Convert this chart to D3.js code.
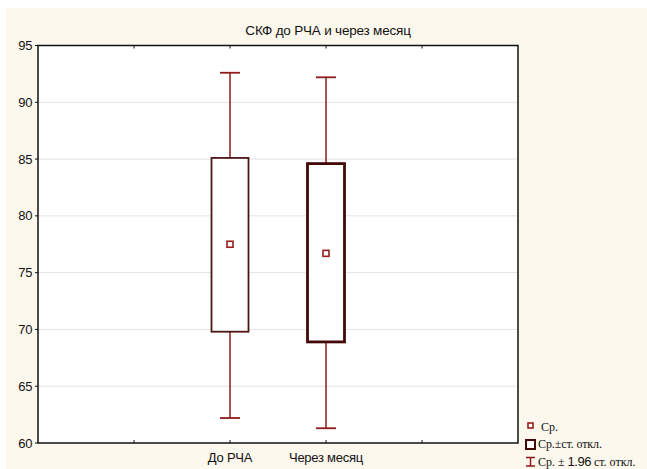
<!DOCTYPE html>
<html>
<head>
<meta charset="utf-8">
<script src="https://cdn.jsdelivr.net/npm/d3@7"></script>
<style>
  body { margin: 0; background: #fff; }
  text { font-family: "Liberation Sans", Arial, sans-serif; }
</style>
</head>
<body>
<div id="chart"></div>
<script>
// data
const categories = ["До РЧА", "Через месяц"];
const catPos = [2, 3];
const means = [77.5, 76.7];
const boxLow = [69.8, 68.9];
const boxHigh = [85.1, 84.6];
const whiskLow = [62.2, 61.3];
const whiskHigh = [92.6, 92.2];
const yTicks = [60, 65, 70, 75, 80, 85, 90, 95];

const W = 647, H = 469;
const margin = { top: 45.5, right: 129, bottom: 26, left: 38 };

const svg = d3.select("#chart").append("svg")
  .attr("width", W)
  .attr("height", H);

// cream frame
svg.append("rect")
  .attr("x", 6).attr("y", 8)
  .attr("width", W - 6).attr("height", H - 8)
  .attr("fill", "#fdf8ee");

const x = d3.scaleLinear().domain([0, 5]).range([margin.left, W - margin.right]);
const y = d3.scaleLinear().domain([60, 95]).range([H - margin.bottom, margin.top]);

// plot area
svg.append("rect")
  .attr("x", x(0)).attr("y", y(95))
  .attr("width", x(5) - x(0)).attr("height", y(60) - y(95))
  .attr("fill", "#fff");

// grid
svg.append("g").selectAll("line")
  .data(yTicks.slice(1, -1))
  .join("line")
  .attr("x1", x(0)).attr("x2", x(5))
  .attr("y1", d => y(d)).attr("y2", d => y(d))
  .attr("stroke", "#e2e2e2").attr("stroke-width", 1);

// y axis labels
svg.append("g").selectAll("text")
  .data(yTicks)
  .join("text")
  .attr("x", x(0) - 6)
  .attr("y", d => y(d) + 4.5)
  .attr("text-anchor", "end")
  .attr("font-size", 13)
  .attr("letter-spacing", -0.4)
  .attr("fill", "#111")
  .text(d => d);

// y tick marks
svg.append("g").selectAll("line")
  .data(yTicks)
  .join("line")
  .attr("x1", x(0) - 3).attr("x2", x(0))
  .attr("y1", d => y(d)).attr("y2", d => y(d))
  .attr("stroke", "#111");

// x ticks (top and bottom)
const xt = [1, 2, 3, 4];
svg.append("g").selectAll("line")
  .data(xt)
  .join("line")
  .attr("x1", d => x(d)).attr("x2", d => x(d))
  .attr("y1", y(95)).attr("y2", y(95) + 3)
  .attr("stroke", "#111");
svg.append("g").selectAll("line")
  .data(xt)
  .join("line")
  .attr("x1", d => x(d)).attr("x2", d => x(d))
  .attr("y1", y(60)).attr("y2", y(60) - 3)
  .attr("stroke", "#111");

// frame border
svg.append("rect")
  .attr("x", x(0)).attr("y", y(95))
  .attr("width", x(5) - x(0)).attr("height", y(60) - y(95))
  .attr("fill", "none")
  .attr("stroke", "#111").attr("stroke-width", 1.5);

// category labels
svg.append("g").selectAll("text")
  .data(categories)
  .join("text")
  .attr("x", (d, i) => x(catPos[i]))
  .attr("y", y(60) + 19)
  .attr("text-anchor", "middle")
  .attr("font-size", 13)
  .attr("letter-spacing", -0.25)
  .attr("fill", "#111")
  .text(d => d);

// title
svg.append("text")
  .attr("x", 328).attr("y", 35)
  .attr("text-anchor", "middle")
  .attr("font-size", 13.5)
  .attr("letter-spacing", -0.2)
  .attr("fill", "#111")
  .text("СКФ до РЧА и через месяц");

const whiskColor = "#8e1b1b";
const boxColors = ["#4e1414", "#420808"];
const boxWidths = [1.8, 2.8];
const boxW = 37, capW = 20;

categories.forEach((c, i) => {
  const cx = x(catPos[i]);
  const g = svg.append("g");
  // whiskers
  g.append("line")
    .attr("x1", cx).attr("x2", cx)
    .attr("y1", y(whiskHigh[i])).attr("y2", y(boxHigh[i]))
    .attr("stroke", whiskColor).attr("stroke-width", 1.5);
  g.append("line")
    .attr("x1", cx).attr("x2", cx)
    .attr("y1", y(boxLow[i])).attr("y2", y(whiskLow[i]))
    .attr("stroke", whiskColor).attr("stroke-width", 1.5);
  g.append("line")
    .attr("x1", cx - capW / 2).attr("x2", cx + capW / 2)
    .attr("y1", y(whiskHigh[i])).attr("y2", y(whiskHigh[i]))
    .attr("stroke", whiskColor).attr("stroke-width", 1.8);
  g.append("line")
    .attr("x1", cx - capW / 2).attr("x2", cx + capW / 2)
    .attr("y1", y(whiskLow[i])).attr("y2", y(whiskLow[i]))
    .attr("stroke", whiskColor).attr("stroke-width", 1.8);
  // box
  g.append("rect")
    .attr("x", cx - boxW / 2)
    .attr("y", y(boxHigh[i]))
    .attr("width", boxW)
    .attr("height", y(boxLow[i]) - y(boxHigh[i]))
    .attr("fill", "#fff")
    .attr("stroke", boxColors[i]).attr("stroke-width", boxWidths[i]);
  // mean
  g.append("rect")
    .attr("x", cx - 3).attr("y", y(means[i]) - 3)
    .attr("width", 6).attr("height", 6)
    .attr("fill", "#fff")
    .attr("stroke", "#9a1c1c").attr("stroke-width", 1.6);
});

// legend
const lg = svg.append("g");
lg.append("rect")
  .attr("x", 528).attr("y", 423).attr("width", 5).attr("height", 5)
  .attr("fill", "#fff").attr("stroke", "#9a1c1c").attr("stroke-width", 1.6);
lg.append("rect")
  .attr("x", 526).attr("y", 440).attr("width", 9).attr("height", 9)
  .attr("fill", "#fff").attr("stroke", "#420808").attr("stroke-width", 2);
lg.append("line").attr("x1", 530.5).attr("x2", 530.5).attr("y1", 457).attr("y2", 466.5)
  .attr("stroke", whiskColor).attr("stroke-width", 1.5);
lg.append("line").attr("x1", 526).attr("x2", 535).attr("y1", 457.5).attr("y2", 457.5)
  .attr("stroke", whiskColor).attr("stroke-width", 1.5);
lg.append("line").attr("x1", 526).attr("x2", 535).attr("y1", 466).attr("y2", 466)
  .attr("stroke", whiskColor).attr("stroke-width", 1.5);

const serif = "'Liberation Serif', 'Times New Roman', serif";
lg.append("text").attr("x", 541).attr("y", 431)
  .attr("font-size", 12).style("font-family", serif).attr("fill", "#111")
  .text("Ср.");
lg.append("text").attr("x", 538).attr("y", 448)
  .attr("font-size", 12).style("font-family", serif).attr("fill", "#111")
  .attr("letter-spacing", -0.1)
  .text("Ср.±ст. откл.");
const t3 = lg.append("text").attr("x", 538).attr("y", 465.5)
  .attr("font-size", 12).style("font-family", serif).attr("fill", "#111");
t3.append("tspan").text("Ср. ± ");
t3.append("tspan").style("font-family", "'Liberation Sans', Arial, sans-serif")
  .attr("font-size", 13).attr("letter-spacing", -0.5).text("1.96");
t3.append("tspan").text(" ст. откл.");
</script>
</body>
</html>
